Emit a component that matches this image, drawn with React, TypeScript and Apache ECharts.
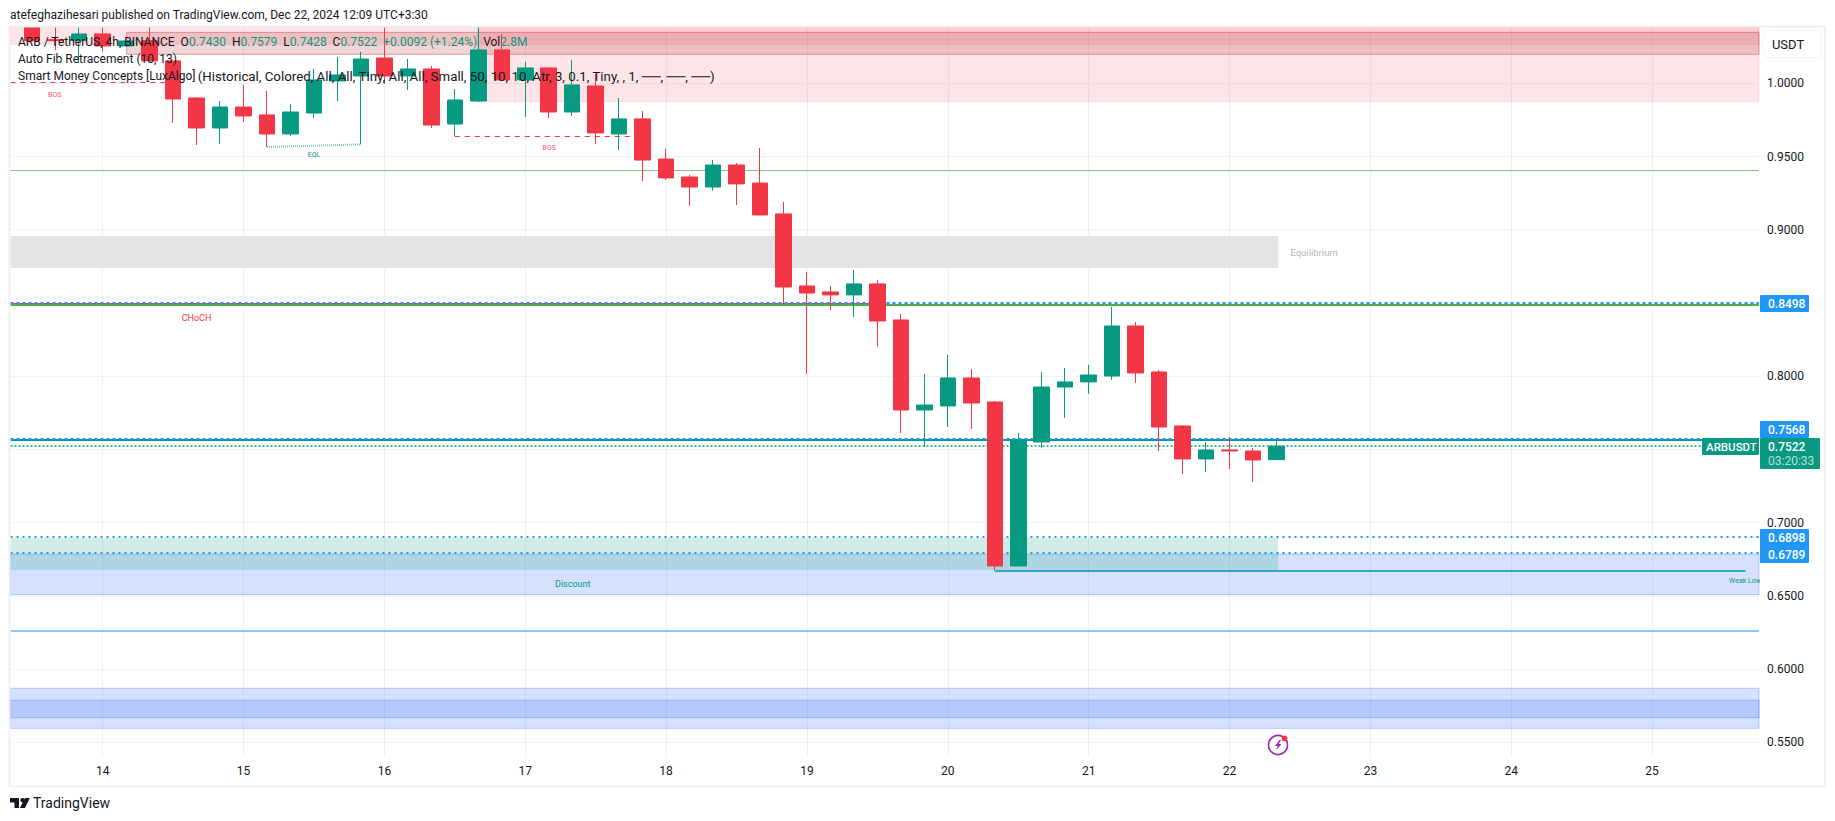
import React, { useEffect, useRef } from "react";
import * as echarts from "echarts";

const firstBarDay = 13.5;
const barsPerDay = 6;
const opens = [1.0384,1.0298,1.0291,1.0337,1.0255,1.0291,1.0153,0.99,0.9695,0.9838,0.9784,0.9654,0.9797,1.0016,1.005,1.0173,1.005,1.0098,0.9722,0.9879,1.0228,1.0023,1.0105,0.9804,0.9982,0.9654,0.9757,0.9483,0.936,0.9292,0.9442,0.9319,0.9108,0.8616,0.8575,0.8555,0.863,0.8384,0.7769,0.7797,0.7988,0.7824,0.6704,0.7551,0.7926,0.7961,0.8001,0.8343,0.8029,0.766,0.7435,0.7496,0.7489,0.743];
const closes = [1.0291,1.0291,1.0337,1.0255,1.0289,1.0153,0.9893,0.9695,0.9838,0.9777,0.9654,0.9804,1.0023,1.0057,1.0166,1.005,1.0098,0.9715,0.9886,1.0228,1.0023,1.0105,0.9804,0.9989,0.9661,0.9757,0.9476,0.9354,0.9292,0.9442,0.9313,0.9101,0.8609,0.8568,0.8555,0.863,0.8377,0.7769,0.7803,0.7988,0.7817,0.6704,0.7558,0.7926,0.7961,0.8008,0.8343,0.8022,0.7653,0.7435,0.7496,0.7489,0.7428,0.7522];
const lows = [1.0291,1.0228,1.0137,1.0216,1.0255,1.0153,0.9729,0.9579,0.9586,0.9736,0.9565,0.964,0.9763,0.9879,0.9583,0.9996,0.9954,0.9695,0.964,0.9873,1.0023,0.977,0.9763,0.9777,0.9586,0.9545,0.9333,0.934,0.9162,0.9265,0.9169,0.9101,0.85,0.8015,0.8452,0.8404,0.82,0.7612,0.7519,0.7653,0.764,0.6674,0.6704,0.751,0.7715,0.7879,0.7974,0.7954,0.7489,0.7332,0.7346,0.7366,0.7278,0.7428];
const highs = [1.0384,1.0384,1.0384,1.0384,1.0289,1.0384,1.0153,0.9904,0.9879,0.9989,0.9948,0.9859,1.0098,1.018,1.0214,1.0384,1.0166,1.0118,0.9961,1.0384,1.0337,1.0146,1.0105,1.0159,1.0064,0.99,0.9811,0.9552,0.9374,0.9476,0.9456,0.9558,0.919,0.8712,0.8616,0.8725,0.8657,0.8425,0.8015,0.8145,0.8049,0.7831,0.7612,0.8029,0.8056,0.8077,0.8473,0.837,0.8042,0.7667,0.7551,0.7585,0.751,0.7579];

const dayTicks = [14,15,16,17,18,19,20,21,22,23,24,25];
const priceGrid = [0.55,0.6,0.65,0.7,0.75,0.8,0.85,0.9,0.95,1.0];
const priceLabels = [0.55,0.6,0.65,0.7,0.8,0.9,0.95,1.0];

const X_MIN = 13.3456, X_MAX = 25.7588, Y_MIN = 0.53995, Y_MAX = 1.03845;
const zoneEndDay = 22.345;

// [fromDay, toDay, priceLow, priceHigh]
const pinkZones = [[X_MIN,X_MAX,1.0266,Y_MAX],[16.66,X_MAX,0.9875,Y_MAX]];
const fibZone = [[14.17,X_MAX,1.0198,1.0348]];
const blueZones = [[X_MIN,X_MAX,0.6508,0.6784],[X_MIN,X_MAX,0.5668,0.5869],[X_MIN,X_MAX,0.5595,0.5787]];
const greenZone = [[X_MIN,zoneEndDay,0.6677,0.6895]];
const grayZone = [[X_MIN,zoneEndDay,0.8739,0.8957]];

const RED = "#F23645", GREEN = "#089981", BLUE = "#2196F3", INK = "#131722";
const FONT = "Roboto";

const area = (z: number[][], color: string, border: string) =>
  z.map((r) => [
    { coord: [r[0], r[3]], itemStyle: { color, borderColor: border, borderWidth: border === "none" ? 0 : 1 } },
    { coord: [r[1], r[2]] },
  ]);

const hline = (y: number, color: string, width: number, type: any, from = X_MIN, to = X_MAX) => [
  { coord: [from, y], lineStyle: { color, width, type, opacity: 1 } },
  { coord: [to, y] },
];

const seg = (x0: number, y0: number, x1: number, y1: number, color: string, width: number, type: any) => [
  { coord: [x0, y0], lineStyle: { color, width, type, opacity: 1 } },
  { coord: [x1, y1] },
];

const note = (x: number, y: number, text: string, color: string, fontSize: number) => ({
  coord: [x, y],
  symbol: "circle",
  symbolSize: 1,
  itemStyle: { color: "transparent" },
  label: { show: true, position: "inside", formatter: text, color, fontSize, fontFamily: FONT },
});

const txt = (x: number, y: number, text: string, fill: string, fontSize = 12, align = "left", extra: any = {}) => ({
  type: "text",
  x,
  y,
  z: 100,
  silent: true,
  style: { text, fill, fontSize, fontFamily: FONT, align, verticalAlign: "middle", ...extra },
});

const box = (x: number, y: number, width: number, height: number, fill: string) => ({
  type: "rect",
  z: 99,
  silent: true,
  shape: { x, y, width, height, r: 1 },
  style: { fill },
});

const legend1 = "{k|ARB / TetherUS, 4h, BINANCE  O}{v|0.7430}{k|  H}{v|0.7579}{k|  L}{v|0.7428}{k|  C}{v|0.7522}{v|  +0.0092 (+1.24%)}{k|  Vol}{v|2.8M}";
const legend2 = "Auto Fib Retracement (10, 13)";
const legend3a = "Smart Money Concepts [LuxAlgo]";
const legend3b = "(Historical, Colored, All, All, Tiny, All, All, Small, 50, 10, 10, Atr, 3, 0.1, Tiny, , 1, ──, ──, ──)";
const header = "atefeghazihesari published on TradingView.com, Dec 22, 2024 12:09 UTC+3:30";

export default function App() {
  const ref = useRef<HTMLDivElement>(null);
  useEffect(() => {
    const chart = echarts.init(ref.current!, undefined, { renderer: "svg" });
    const candles = opens.map((o, i) => [firstBarDay + i / barsPerDay, o, closes[i], lows[i], highs[i]]);
    chart.setOption({
      animation: false,
      backgroundColor: "#ffffff",
      grid: { left: 10.5, top: 27, width: 1748.5, height: 730 },
      xAxis: {
        type: "value",
        min: X_MIN,
        max: X_MAX,
        axisLine: { show: false },
        axisTick: { show: false, customValues: dayTicks },
        axisLabel: { customValues: dayTicks, color: INK, fontSize: 12, fontFamily: FONT, margin: 8, formatter: (v: number) => String(v) },
        splitLine: { show: true, lineStyle: { color: "#EEF0F3", width: 1 } },
      },
      yAxis: {
        type: "value",
        position: "right",
        min: Y_MIN,
        max: Y_MAX,
        axisLine: { show: false },
        axisTick: { show: false, customValues: priceGrid },
        axisLabel: { customValues: priceLabels, color: INK, fontSize: 12, fontFamily: FONT, margin: 8, formatter: (v: number) => v.toFixed(4) },
        splitLine: { show: true, lineStyle: { color: "#F2F3F5", width: 1 } },
      },
      series: [
        {
          type: "line",
          data: [],
          z: 1,
          silent: true,
          markArea: {
            silent: true,
            data: [
              ...area(pinkZones, "rgba(242,54,69,0.13)", "rgba(242,54,69,0.12)"),
              ...area(fibZone, "rgba(185,61,67,0.22)", "rgba(200,60,70,0.45)"),
              ...area(grayZone, "#E3E4E6", "none"),
              ...area(blueZones, "rgba(50,110,245,0.2)", "rgba(60,120,245,0.35)"),
              ...area(greenZone, "rgba(8,153,129,0.19)", "none"),
            ],
          },
          markLine: {
            silent: true,
            symbol: "none",
            label: { show: false },
            data: [
              hline(0.9406, "#81C784", 1, "solid"),
              hline(0.8495, RED, 1, "solid", X_MIN, 19.5),
              hline(0.8487, "#4CAF50", 2, "solid"),
              hline(0.8500, BLUE, 2, [3, 3]),
              hline(0.7567, "#0097A7", 2, "solid"),
              hline(0.7575, BLUE, 2, [3, 3]),
              hline(0.7522, GREEN, 1.5, [2, 2], X_MIN, 25.352),
              hline(0.6902, BLUE, 2, [2, 4]),
              hline(0.6792, BLUE, 2, [2, 4]),
              hline(0.6265, "#64B5F6", 1.5, "solid"),
              hline(0.6674, "#0097A7", 1.5, "solid", 20.333, 25.664),
              hline(1.0007, RED, 1, [5, 5], X_MIN, 14.44),
              hline(0.9640, RED, 1, [5, 5], 16.5, 17.83),
              seg(15.1667, 0.9565, 15.8333, 0.9583, "rgba(8,153,129,0.55)", 2, [1, 1]),
            ],
          },
          markPoint: {
            silent: true,
            data: [
              note(13.66, 0.9921, "BOS", "#F7525F", 7),
              note(17.17, 0.9561, "BOS", "#F7525F", 7),
              note(15.5, 0.9508, "EQL", GREEN, 7),
              note(14.666, 0.8397, "CHoCH", RED, 9),
              note(17.337, 0.6581, "Discount", GREEN, 9),
              note(25.66, 0.6599, "Weak Low", GREEN, 7),
              note(22.6, 0.8843, "Equilibrium", "#B2B5BE", 9.5),
            ],
          },
        },
        {
          type: "candlestick",
          z: 10,
          barWidth: 16,
          silent: true,
          encode: { x: 0, y: [1, 2, 3, 4] },
          itemStyle: { color: GREEN, color0: RED, borderColor: GREEN, borderColor0: RED, borderWidth: 1 },
          data: candles,
        },
      ],
      graphic: [
        {
          type: "rect",
          z: 98,
          silent: true,
          shape: { x: 9.5, y: 26.5, width: 1815.5, height: 760 },
          style: { fill: "none", stroke: "#EEF0F5", lineWidth: 2 },
        },
        txt(10, 15, header, "#131722", 12),
        txt(18, 41.5, legend1, INK, 12, "left", {
          rich: {
            k: { fill: INK, fontSize: 12, fontFamily: FONT },
            v: { fill: GREEN, fontSize: 12, fontFamily: FONT },
          },
        }),
        txt(18, 58.5, legend2, INK, 12),
        txt(18, 76, legend3a, INK, 12),
        txt(197.7, 76, legend3b, INK, 13.3),
        { type: "rect", z: 100, silent: true, shape: { x: 1763.5, y: 30.5, width: 58, height: 27, r: 5 }, style: { fill: "#fff", stroke: "#F0F3FA", lineWidth: 1 } },
        txt(1788, 44.5, "USDT", INK, 13, "center"),
        box(1760, 295, 49, 17, BLUE),
        txt(1768, 304, "0.8498", "#fff", 12, "left", { fontWeight: 500 }),
        box(1760, 421, 49, 17, BLUE),
        txt(1768, 430, "0.7568", "#fff", 12, "left", { fontWeight: 500 }),
        box(1702, 438, 57, 17, GREEN),
        txt(1706, 447, "ARBUSDT", "#fff", 11.5, "left", { fontWeight: 500 }),
        box(1760, 438, 60, 31, GREEN),
        txt(1768, 447, "0.7522", "#fff", 12, "left", { fontWeight: 500 }),
        txt(1768, 461, "03:20:33", "#B5E0D8", 12),
        box(1760, 529, 49, 34, BLUE),
        txt(1768, 538, "0.6898", "#fff", 12, "left", { fontWeight: 500 }),
        txt(1768, 555, "0.6789", "#fff", 12, "left", { fontWeight: 500 }),
        { type: "rect", z: 97, silent: true, shape: { x: 1760, y: 574, width: 30, height: 13 }, style: { fill: "#fff" } },
        { type: "circle", z: 100, silent: true, shape: { cx: 1278, cy: 745, r: 9.5 }, style: { fill: "#fff", stroke: "#9C27B0", lineWidth: 1.6 } },
        { type: "polygon", z: 100, silent: true, shape: { points: [[1279.5, 740], [1275, 746], [1278, 746], [1276, 750.5], [1281.5, 744], [1278.5, 744], [1281, 740]] }, style: { fill: "#9C27B0" } },
        { type: "circle", z: 100, silent: true, shape: { cx: 1284.5, cy: 738.5, r: 3 }, style: { fill: RED } },
        { type: "polygon", z: 100, silent: true, shape: { points: [[10, 798], [19, 798], [19, 808], [14.5, 808], [14.5, 802.5], [10, 802.5]] }, style: { fill: "#131722" } },
        { type: "circle", z: 100, silent: true, shape: { cx: 22.5, cy: 800.2, r: 2.2 }, style: { fill: "#131722" } },
        { type: "polygon", z: 100, silent: true, shape: { points: [[25, 798], [29.8, 798], [25, 808], [19.8, 808]] }, style: { fill: "#131722" } },
        txt(33, 803, "TradingView", "#131722", 14),
      ],
    });
    return () => chart.dispose();
  }, []);
  return <div ref={ref} style={{ position: "absolute", left: 0, top: 0, width: 1835, height: 821 }} />;
}
